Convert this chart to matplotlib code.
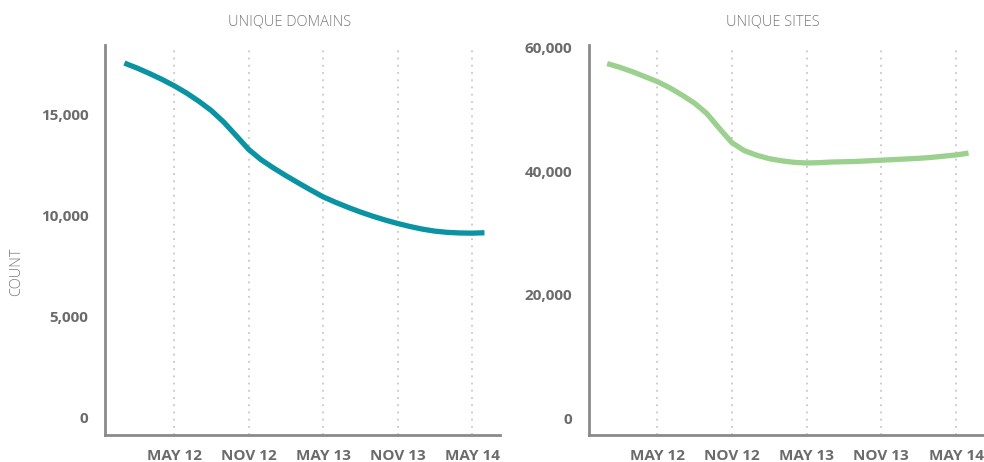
import matplotlib
matplotlib.use("Agg")
import matplotlib.pyplot as plt
from matplotlib.ticker import FuncFormatter

# months relative to May 2012 (Jan 2012 .. Jun 2014)
months = list(range(-4, 26))
domains = [17570, 17330, 17060, 16770, 16450, 16090, 15680, 15220, 14650, 13980,
           13300, 12790, 12380, 12000, 11640, 11290, 10950, 10680, 10430, 10200,
           9990, 9800, 9630, 9480, 9350, 9250, 9190, 9160, 9150, 9170]
sites = [57400, 56800, 56100, 55300, 54500, 53500, 52300, 51000, 49300, 46900,
         44600, 43300, 42550, 42000, 41650, 41400, 41300, 41350, 41450, 41500,
         41550, 41650, 41750, 41850, 41950, 42050, 42200, 42400, 42600, 42900]
tick_pos = [0, 6, 12, 18, 24]
tick_labels = ["MAY 12", "NOV 12", "MAY 13", "NOV 13", "MAY 14"]
left_yticks = [0, 5000, 10000, 15000]
right_yticks = [0, 20000, 40000, 60000]

W, H = 984, 462
fig = plt.figure(figsize=(W / 100, H / 100), dpi=100)

def px_axes(x0, x1, y0, y1):
    return fig.add_axes([x0 / W, 1 - y1 / H, (x1 - x0) / W, (y1 - y0) / H])

ax1 = px_axes(105, 500, 45, 435)
ax2 = px_axes(589, 984, 45, 435)

spine_col = "#8a8a8a"
label_col = "#6b6b6b"
title_col = "#7a7a7a"

def style(ax, yticks, ylim, xlim):
    for s in ["top", "right"]:
        ax.spines[s].set_visible(False)
    for s in ["left", "bottom"]:
        ax.spines[s].set_color(spine_col)
        ax.spines[s].set_linewidth(2)
    ax.set_xticks(tick_pos)
    ax.set_xticklabels(tick_labels)
    ax.set_yticks(yticks)
    ax.yaxis.set_major_formatter(FuncFormatter(lambda v, p: f"{int(v):,}"))
    ax.tick_params(length=0, labelsize=11, colors=label_col)
    ax.tick_params(axis="x", pad=10)
    ax.tick_params(axis="y", pad=12)
    for lbl in ax.get_xticklabels() + ax.get_yticklabels():
        lbl.set_fontweight("bold")
        lbl.set_family(["Open Sans", "DejaVu Sans"])
    ax.set_ylim(*ylim)
    ax.set_xlim(*xlim)
    for t in tick_pos:
        ax.axvline(t, color="#c8c8c8", lw=1.3, ls=(0, (1, 3)), zorder=0)

ax1.plot(months, domains, color="#0a93a2", lw=3.8, solid_capstyle="butt", solid_joinstyle="round")
ax2.plot(months, sites, color="#9bd08e", lw=3.8, solid_capstyle="butt", solid_joinstyle="round")
style(ax1, left_yticks, (-842, 18465), (-5.56, 26.25))
style(ax2, right_yticks, (-2753, 60405), (-5.46, 26.24))

fig.text(290 / W, 1 - 22 / H, "UNIQUE DOMAINS", ha="center", va="center",
         fontsize=10.5, color=title_col, family=["Open Sans", "DejaVu Sans"], fontweight="light")
fig.text(773 / W, 1 - 22 / H, "UNIQUE SITES", ha="center", va="center",
         fontsize=10.5, color=title_col, family=["Open Sans", "DejaVu Sans"], fontweight="light")
fig.text(17 / W, 1 - 272 / H, "COUNT", ha="center", va="center", rotation=90,
         fontsize=10.5, color=title_col, family=["Open Sans", "DejaVu Sans"], fontweight="light")

fig.savefig("out.png", dpi=100)
